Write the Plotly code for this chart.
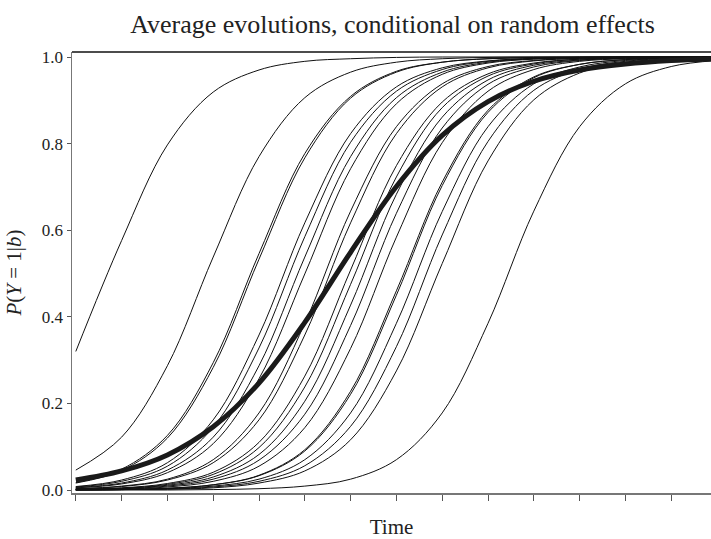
import plotly.graph_objects as go

# Time grid (in tick units) at which each curve was read
time_points = [0, 1, 2, 3, 4, 5, 6, 7, 8, 9, 10, 11, 12, 13, 14]

# Subject-specific curves P(Y=1|b), one list per subject
subject_01 = [0.320, 0.576, 0.797, 0.919, 0.970, 0.990, 0.996, 0.999, 1.000, 1.000, 1.000, 1.000, 1.000, 1.000, 1.000]
subject_02 = [0.046, 0.122, 0.287, 0.538, 0.770, 0.906, 0.965, 0.988, 0.996, 0.999, 1.000, 1.000, 1.000, 1.000, 1.000]
subject_03 = [0.017, 0.048, 0.126, 0.294, 0.546, 0.777, 0.909, 0.967, 0.988, 0.996, 0.999, 1.000, 1.000, 1.000, 1.000]
subject_04 = [0.016, 0.045, 0.120, 0.283, 0.533, 0.767, 0.905, 0.965, 0.988, 0.996, 0.998, 0.999, 1.000, 1.000, 1.000]
subject_05 = [0.008, 0.023, 0.063, 0.162, 0.358, 0.617, 0.823, 0.931, 0.975, 0.991, 0.997, 0.999, 1.000, 1.000, 1.000]
subject_06 = [0.007, 0.020, 0.055, 0.145, 0.328, 0.585, 0.803, 0.921, 0.971, 0.990, 0.996, 0.999, 1.000, 1.000, 1.000]
subject_07 = [0.006, 0.016, 0.046, 0.122, 0.287, 0.538, 0.770, 0.906, 0.965, 0.988, 0.996, 0.999, 0.999, 1.000, 1.000]
subject_08 = [0.005, 0.014, 0.040, 0.107, 0.257, 0.499, 0.742, 0.892, 0.960, 0.986, 0.995, 0.998, 0.999, 1.000, 1.000]
subject_09 = [0.003, 0.009, 0.025, 0.070, 0.178, 0.385, 0.644, 0.839, 0.938, 0.978, 0.992, 0.997, 0.999, 1.000, 1.000]
subject_10 = [0.003, 0.008, 0.023, 0.063, 0.162, 0.358, 0.617, 0.823, 0.931, 0.975, 0.991, 0.997, 0.999, 1.000, 1.000]
subject_11 = [0.002, 0.005, 0.015, 0.041, 0.110, 0.263, 0.508, 0.749, 0.896, 0.961, 0.986, 0.995, 0.998, 0.999, 1.000]
subject_12 = [0.002, 0.004, 0.013, 0.036, 0.098, 0.238, 0.475, 0.723, 0.883, 0.956, 0.984, 0.995, 0.998, 0.999, 1.000]
subject_13 = [0.001, 0.004, 0.011, 0.030, 0.082, 0.205, 0.427, 0.683, 0.861, 0.947, 0.981, 0.993, 0.998, 0.999, 1.000]
subject_14 = [0.001, 0.003, 0.009, 0.025, 0.069, 0.175, 0.380, 0.639, 0.836, 0.937, 0.977, 0.992, 0.997, 0.999, 1.000]
subject_15 = [0.001, 0.002, 0.007, 0.020, 0.055, 0.144, 0.327, 0.584, 0.802, 0.921, 0.971, 0.990, 0.996, 0.999, 1.000]
subject_16 = [0.001, 0.001, 0.004, 0.012, 0.034, 0.093, 0.228, 0.460, 0.711, 0.877, 0.954, 0.983, 0.994, 0.998, 0.999]
subject_17 = [0.000, 0.001, 0.004, 0.012, 0.033, 0.090, 0.221, 0.450, 0.703, 0.872, 0.952, 0.983, 0.994, 0.998, 0.999]
subject_18 = [0.000, 0.001, 0.003, 0.009, 0.025, 0.070, 0.178, 0.385, 0.643, 0.839, 0.938, 0.977, 0.992, 0.997, 0.999]
subject_19 = [0.000, 0.001, 0.002, 0.007, 0.020, 0.056, 0.147, 0.331, 0.589, 0.805, 0.923, 0.972, 0.990, 0.997, 0.999]
subject_20 = [0.000, 0.001, 0.002, 0.005, 0.016, 0.044, 0.116, 0.275, 0.523, 0.760, 0.901, 0.963, 0.987, 0.995, 0.998]
subject_21 = [0.000, 0.000, 0.000, 0.001, 0.003, 0.009, 0.025, 0.070, 0.178, 0.385, 0.644, 0.839, 0.938, 0.978, 0.992]

# Marginal (average) evolution, drawn thick
average_curve = [0.023, 0.044, 0.081, 0.146, 0.247, 0.387, 0.549, 0.701, 0.819, 0.897, 0.944, 0.970, 0.984, 0.992, 0.996]

subjects = [subject_01, subject_02, subject_03, subject_04, subject_05, subject_06, subject_07,
            subject_08, subject_09, subject_10, subject_11, subject_12, subject_13, subject_14,
            subject_15, subject_16, subject_17, subject_18, subject_19, subject_20, subject_21]

y_ticks = [0.0, 0.2, 0.4, 0.6, 0.8, 1.0]
x_ticks = list(range(14))

SERIF = "Liberation Serif, Times New Roman, serif"

fig = go.Figure()
for s in subjects:
    fig.add_trace(go.Scatter(x=time_points, y=s, mode="lines",
                             line=dict(color="#111111", width=1, shape="spline", smoothing=1.0),
                             hoverinfo="skip", showlegend=False))
fig.add_trace(go.Scatter(x=time_points, y=average_curve, mode="lines",
                         line=dict(color="#1a1a1a", width=5, shape="spline", smoothing=1.0),
                         hoverinfo="skip", showlegend=False))

fig.update_layout(
    width=711, height=539,
    margin=dict(l=72, r=0, t=52, b=46, autoexpand=False),
    paper_bgcolor="white", plot_bgcolor="white",
    font=dict(family=SERIF, color="#222222"),
    title=dict(text="Average evolutions, conditional on random effects",
               x=0.552, xanchor="center", y=0.955, yanchor="middle",
               font=dict(family=SERIF, size=26, color="#222222")),
    xaxis=dict(range=[-0.083, 13.869], tickvals=x_ticks, ticktext=[""] * len(x_ticks),
               ticks="outside", ticklen=6, tickwidth=1, tickcolor="#555555",
               showline=True, linecolor="#777777", linewidth=1.5, showgrid=False, zeroline=False,
               automargin=False,
               title=dict(text="Time", font=dict(family=SERIF, size=21, color="#222222"), standoff=18)),
    yaxis=dict(range=[-0.00693, 1.01155], tickvals=y_ticks, tickformat=".1f",
               ticks="outside", ticklen=4, tickwidth=1, tickcolor="#555555",
               tickfont=dict(family=SERIF, size=17, color="#222222"),
               showline=True, linecolor="#777777", linewidth=1.5, showgrid=False, zeroline=False,
               automargin=False,
               title=dict(text="<i>P</i>(<i>Y</i> = 1|<i>b</i>)",
                          font=dict(family=SERIF, size=21, color="#222222"), standoff=14)),
    shapes=[dict(type="line", xref="paper", yref="paper", x0=0, x1=1, y0=1, y1=1,
                 line=dict(color="#111111", width=1.5))],
)

fig.write_html("out.html", config={"displayModeBar": False, "staticPlot": True},
               post_script="document.body.style.margin='0';document.body.style.overflow='hidden';")
